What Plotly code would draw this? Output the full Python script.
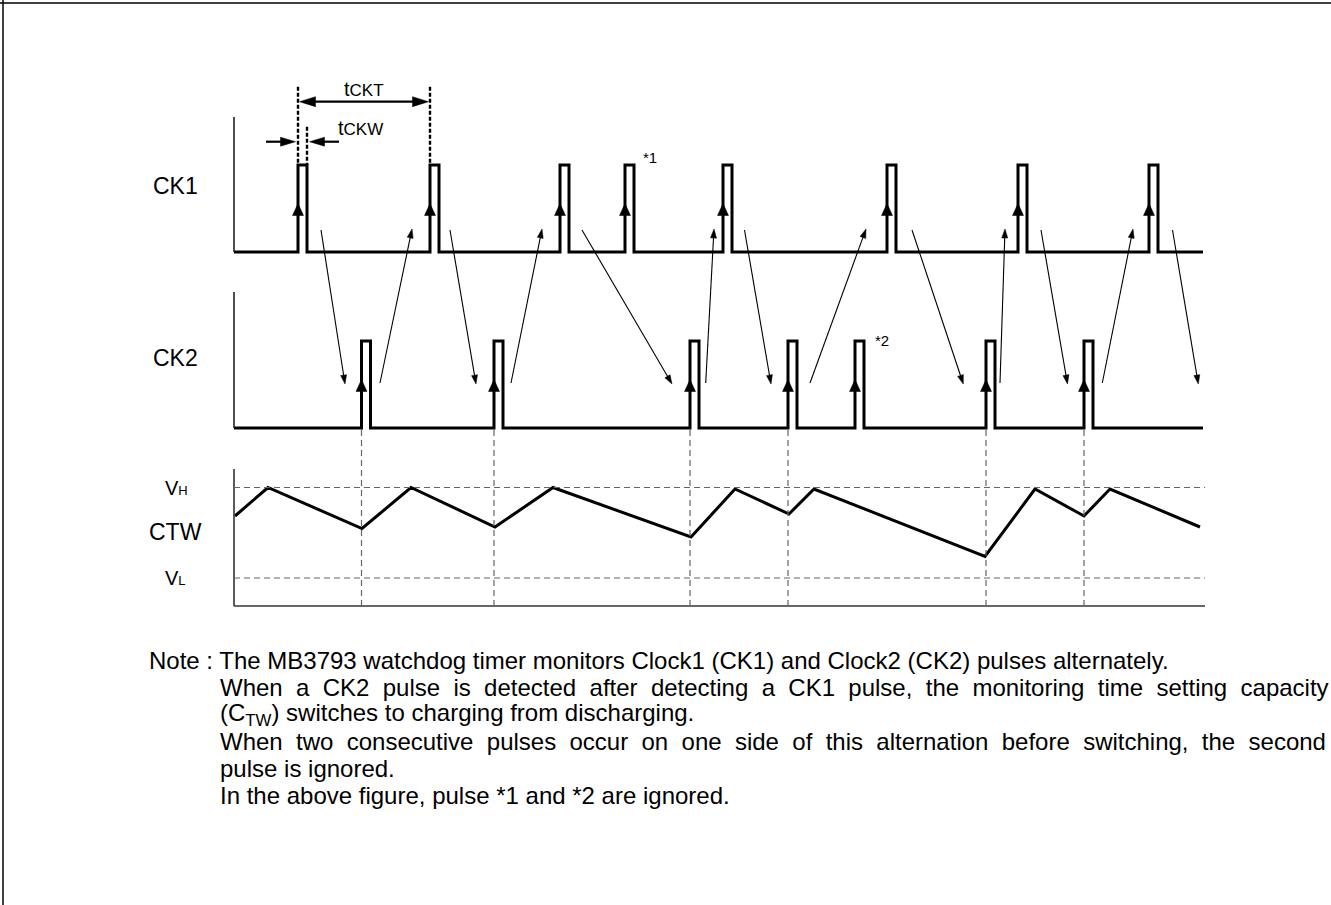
import math
import plotly.graph_objects as go

# ---------------- data (drawing units: x = time, y = level on the sheet) ----------------
t_start = 234
t_end = 1203
pulse_w = 9

ck1_rise = [298, 430, 560, 625, 723, 887, 1018, 1149]
ck2_rise = [361.5, 494, 690, 788, 855, 986, 1084]
ck1_low, ck1_high, ck1_top = 252, 165, 117
ck2_low, ck2_high, ck2_top = 428, 341, 292
ck2_ignored = [4]            # index of pulse *2 (no CTW switch)

ctw_t = [235, 268, 362, 411, 495, 553, 691, 735, 789, 814, 985, 1035, 1084, 1110, 1200]
ctw_v = [516, 487.5, 528.5, 487.5, 527, 487.5, 537, 489, 514, 489, 556.5, 489, 516, 489, 527]
v_high = 487.5
v_low = 578
ctw_top = 469
ctw_bottom = 606
ctw_end = 1205

# alternation arrows CK1 <-> CK2 (x at CK1 side, x at CK2 side, direction)
arrow_top_x = [321, 412, 450, 542, 582, 714, 744.5, 866, 912, 1005, 1041, 1133, 1172.5]
arrow_bot_x = [345, 380, 476, 511, 672, 705.7, 771, 810, 963.3, 1000, 1067.5, 1102.3, 1198.3]
arrow_dir = ["down", "up", "down", "up", "down", "up", "down", "up", "down", "up", "down", "up", "down"]
arrow_top_y = 230
arrow_bot_y = 384

# timing labels
tckt_y, tckt_top = 101.7, 86.7
tckw_y, tckw_top = 141.7, 126.7

signal_labels = ["CK1", "CK2", "CTW"]
signal_label_y = [186, 358, 532]
note_lines = [
    "Note : The MB3793 watchdog timer monitors Clock1 (CK1) and Clock2 (CK2) pulses alternately.",
    "When a CK2 pulse is detected after detecting a CK1 pulse, the monitoring time setting capacity",
    "(C<sub>TW</sub>) switches to charging from discharging.",
    "When two consecutive pulses occur on one side of this alternation before switching, the second",
    "pulse is ignored.",
    "In the above figure, pulse *1 and *2 are ignored.",
]
note_justified = [False, True, False, True, False, False]
note_y = [660, 687, 714, 741, 768, 795]

# ---------------- figure ----------------
W, H = 1331, 905
FONT = "Liberation Sans, Arial, Helvetica, sans-serif"
fig = go.Figure()
shapes = []
annotations = []


def pulse_train(rises, low, high):
    xs, ys = [t_start], [low]
    for r in rises:
        xs += [r, r, r + pulse_w, r + pulse_w]
        ys += [low, high, high, low]
    xs.append(t_end)
    ys.append(low)
    return xs, ys


def line(x0, y0, x1, y1, color="black", width=1.0, dash=None):
    d = dict(type="line", xref="x", yref="y", x0=x0, y0=y0, x1=x1, y1=y1,
             line=dict(color=color, width=width))
    if dash:
        d["line"]["dash"] = dash
    shapes.append(d)


def tri(tip_x, tip_y, ux, uy, length, half_w):
    bx, by = tip_x - ux * length, tip_y - uy * length
    nx, ny = -uy, ux
    p = (f"M{tip_x},{tip_y} L{bx + nx * half_w},{by + ny * half_w} "
         f"L{bx - nx * half_w},{by - ny * half_w} Z")
    shapes.append(dict(type="path", xref="x", yref="y", path=p,
                       fillcolor="black", line=dict(color="black", width=0.5)))


def arrow(x0, y0, x1, y1, width=1.1, length=9, half_w=3):
    dx, dy = x1 - x0, y1 - y0
    n = math.hypot(dx, dy)
    ux, uy = dx / n, dy / n
    line(x0, y0, x1 - ux * length * 0.7, y1 - uy * length * 0.7, width=width)
    tri(x1, y1, ux, uy, length, half_w)


# pulse trains
for rises, low, high, top in [(ck1_rise, ck1_low, ck1_high, ck1_top),
                              (ck2_rise, ck2_low, ck2_high, ck2_top)]:
    xs, ys = pulse_train(rises, low, high)
    fig.add_trace(go.Scatter(x=xs, y=ys, mode="lines", hoverinfo="skip",
                             line=dict(color="black", width=3)))
    line(t_start, top, t_start, low, color="#222", width=1.6)
    # rising-edge markers
    mid = (low + high) / 2
    for r in rises:
        tri(r, mid - 5, 0, -1, 12, 5.5)

# CTW waveform
fig.add_trace(go.Scatter(x=ctw_t, y=ctw_v, mode="lines", hoverinfo="skip",
                         line=dict(color="black", width=3)))
line(t_start, ctw_top, t_start, ctw_bottom, color="#333", width=1.6)
line(t_start, ctw_bottom, ctw_end, ctw_bottom, color="#333", width=1.6)
for lv in (v_high, v_low):
    line(t_start, lv, ctw_end, lv, color="#666", width=1.2, dash="6px,4px")
for i, r in enumerate(ck2_rise):
    if i in ck2_ignored:
        continue
    line(r, ck2_low + 2, r, ctw_bottom, color="#666", width=1.2, dash="6px,4px")

# alternation arrows
for xt, xb, d in zip(arrow_top_x, arrow_bot_x, arrow_dir):
    if d == "down":
        arrow(xt, arrow_top_y, xb, arrow_bot_y)
    else:
        arrow(xb, arrow_bot_y - 1, xt, arrow_top_y - 1)

# tCKT / tCKW construction
r0, r1 = ck1_rise[0], ck1_rise[1]
f0 = r0 + pulse_w
for xv, yt in [(r0, tckt_top), (r1, tckt_top), (f0, tckw_top)]:
    line(xv, yt, xv, ck1_high, width=2.4, dash="4px,2px")
mid_t = (r0 + r1) / 2
arrow(mid_t, tckt_y, r0 + 1.5, tckt_y, width=2.2, length=16, half_w=5)
arrow(mid_t, tckt_y, r1 - 1.5, tckt_y, width=2.2, length=16, half_w=5)
arrow(r0 - 32, tckw_y, r0 - 2.5, tckw_y, width=2.2, length=15, half_w=4.5)
arrow(f0 + 32, tckw_y, f0 + 2.5, tckw_y, width=2.2, length=15, half_w=4.5)


def text(x, y, s, size, anchor="left"):
    annotations.append(dict(x=x, y=y, xref="x", yref="y", text=s, showarrow=False,
                            xanchor=anchor, yanchor="middle",
                            font=dict(family=FONT, size=size, color="black")))


text(341.5, 89, "t<span style='font-size:17px'>CKT</span>", 20)
text(335.5, 128, "t<span style='font-size:17px'>CKW</span>", 20)
text(ck1_rise[3] + 16, 157, "*1", 15)
text(ck2_rise[4] + 18, 340, "*2", 15)

for s, y in zip(signal_labels, signal_label_y):
    text(175, y, s, 23, anchor="center")
text(163, v_high, "V<span style='font-size:13px'>H</span>", 20)
text(163, v_low, "V<span style='font-size:13px'>L</span>", 20)

# note paragraph (justified lines get widened word gaps, as in the source)
for i, (s, y, just) in enumerate(zip(note_lines, note_y, note_justified)):
    if just:
        s = " \u00a0".join(s.split(" "))
    text(147 if i == 0 else 218, y, s, 24)

# sheet border (top and left)
line(0, 3, W, 3, width=1.5)
line(3, 0, 3, H, width=1.5)

fig.update_layout(
    width=W, height=H, margin=dict(l=0, r=0, t=0, b=0, pad=0),
    paper_bgcolor="white", plot_bgcolor="white", showlegend=False,
    xaxis=dict(range=[0, W], visible=False, fixedrange=True),
    yaxis=dict(range=[H, 0], visible=False, fixedrange=True),
    shapes=shapes, annotations=annotations,
)

fig.write_html("out.html", config={"displayModeBar": False},
               post_script="document.body.style.margin='0';document.body.style.overflow='hidden';")
